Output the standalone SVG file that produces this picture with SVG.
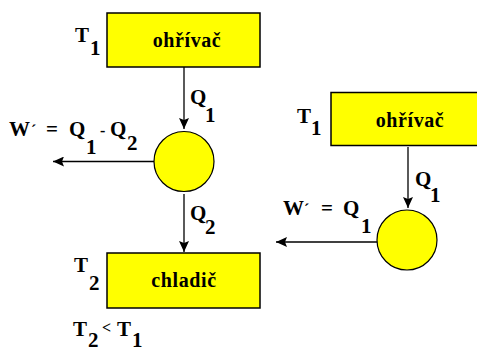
<svg xmlns="http://www.w3.org/2000/svg" width="477" height="352" viewBox="0 0 477 352">
<defs>
<marker id="ah" markerWidth="12" markerHeight="10" refX="11" refY="5" orient="auto" markerUnits="userSpaceOnUse">
<path d="M0,0 L11,5 L0,10 L2,5 z" fill="#000"/>
</marker>
<style>
.box{fill:#ffff00;stroke:#000;stroke-width:1.5}
.eng{fill:#ffff00;stroke:#000;stroke-width:1.2}
.lbl{font-family:"Liberation Serif","DejaVu Serif",serif;font-weight:bold;font-size:21px;fill:#000}
.sm{font-size:16px}
.bt{font-family:"Liberation Serif","DejaVu Serif",serif;font-weight:bold;font-size:20px;letter-spacing:0.6px;fill:#000;text-anchor:middle}
.ln{stroke:#000;stroke-width:1.3;fill:none;marker-end:url(#ah)}
</style>
</defs>
<rect width="477" height="352" fill="#fff"/>
<g id="connectors">
<line class="ln" x1="184" y1="67" x2="184" y2="129"/>
<line class="ln" x1="154" y1="161.5" x2="53" y2="161.5"/>
<line class="ln" x1="184" y1="194" x2="184" y2="252"/>
<line class="ln" x1="408" y1="147" x2="408" y2="208"/>
<line class="ln" x1="377" y1="242" x2="276" y2="242"/>
</g>
<g id="heater-left">
<rect class="box" x="107" y="13" width="153" height="54"/>
<text class="bt" x="187" y="47">ohřívač</text>
</g>
<g id="engine-left">
<circle class="eng" cx="184" cy="161.5" r="30"/>
</g>
<g id="cooler-left">
<rect class="box" x="107" y="253" width="153" height="55"/>
<text class="bt" x="184" y="287">chladič</text>
</g>
<g id="heater-right">
<rect class="box" x="331" y="92.5" width="150" height="53"/>
<text class="bt" x="410" y="127">ohřívač</text>
</g>
<g id="engine-right">
<circle class="eng" cx="407" cy="240" r="30"/>
</g>
<g id="labels">
<text class="lbl"><tspan x="75" y="42">T</tspan><tspan x="90" y="55">1</tspan></text>
<text class="lbl"><tspan x="190" y="104">Q</tspan><tspan x="205" y="122">1</tspan></text>
<text class="lbl"><tspan x="9" y="136">W</tspan><tspan x="31" y="136" class="sm">´</tspan><tspan x="46" y="136">=</tspan><tspan x="69" y="136">Q</tspan><tspan x="86" y="154">1</tspan><tspan x="100" y="136" class="sm">-</tspan><tspan x="110" y="136">Q</tspan><tspan x="127" y="150">2</tspan></text>
<text class="lbl"><tspan x="190" y="220">Q</tspan><tspan x="205" y="234">2</tspan></text>
<text class="lbl"><tspan x="74" y="272">T</tspan><tspan x="89" y="290">2</tspan></text>
<text class="lbl"><tspan x="73" y="336">T</tspan><tspan x="88" y="347">2</tspan><tspan x="102" y="333" class="sm">&lt;</tspan><tspan x="117" y="336">T</tspan><tspan x="132" y="347">1</tspan></text>
<text class="lbl"><tspan x="297" y="123">T</tspan><tspan x="311" y="135">1</tspan></text>
<text class="lbl"><tspan x="415" y="186">Q</tspan><tspan x="430" y="202">1</tspan></text>
<text class="lbl"><tspan x="283" y="215">W</tspan><tspan x="304" y="215" class="sm">´</tspan><tspan x="321" y="215">=</tspan><tspan x="343" y="215">Q</tspan><tspan x="361" y="233">1</tspan></text>
</g>
</svg>
